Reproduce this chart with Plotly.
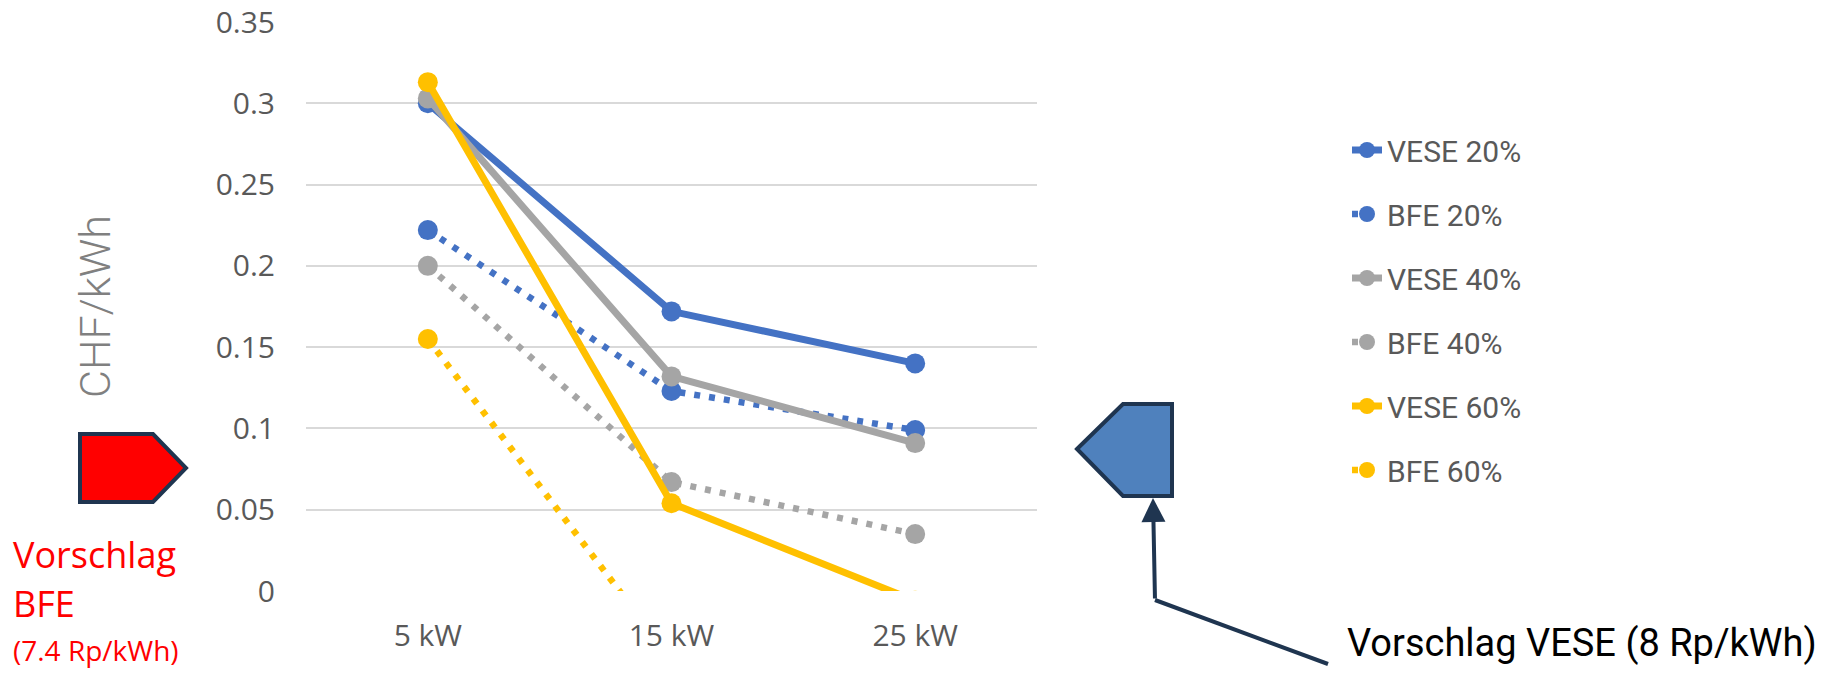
import plotly.graph_objects as go

categories = ["5 kW", "15 kW", "25 kW"]
vese_20 = [0.300, 0.172, 0.140]
bfe_20 = [0.222, 0.123, 0.099]
vese_40 = [0.303, 0.132, 0.091]
bfe_40 = [0.200, 0.067, 0.035]
vese_60 = [0.313, 0.054, -0.006]
bfe_60 = [0.155, -0.042, -0.130]
y_ticks = [0, 0.05, 0.1, 0.15, 0.2, 0.25, 0.3, 0.35]

W, H = 1832, 678
ML, MR, MT, MB = 306, 795, 22, 87
PW, PH = W - ML - MR, H - MT - MB

def px(x):
    return (x - ML) / PW

def py(y):
    return (H - MB - y) / PH

NARROW = "Roboto, Liberation Sans, sans-serif"
REG = "Open Sans, Noto Sans, sans-serif"

BLUE, GRAY, GOLD = "#4472C4", "#A5A5A5", "#FFC000"
NAVY = "#1F3550"
DOT = "6px,9px"

series = [
    ("VESE 20%", vese_20, BLUE, "solid"),
    ("BFE 20%", bfe_20, BLUE, DOT),
    ("VESE 40%", vese_40, GRAY, "solid"),
    ("BFE 40%", bfe_40, GRAY, DOT),
    ("VESE 60%", vese_60, GOLD, "solid"),
    ("BFE 60%", bfe_60, GOLD, DOT),
]

fig = go.Figure()
for i, (name, vals, col, dash) in enumerate(series):
    fig.add_trace(go.Scatter(
        x=categories, y=vals, name=name, mode="lines+markers",
        line=dict(color=col, width=7 if dash == "solid" else 6.5, dash=dash),
        marker=dict(color=col, size=20),
        legendgroup=f"g{i}",
    ))

shapes = []
red = [(80, 434), (153, 434), (186, 468), (153, 502), (80, 502)]
shapes.append(dict(type="path", xref="paper", yref="paper",
                   path="M " + " L ".join(f"{px(a)},{py(b)}" for a, b in red) + " Z",
                   fillcolor="#FF0000", line=dict(color=NAVY, width=4)))
blue = [(1077, 449), (1123, 404), (1172, 404), (1172, 496), (1123, 496)]
shapes.append(dict(type="path", xref="paper", yref="paper",
                   path="M " + " L ".join(f"{px(a)},{py(b)}" for a, b in blue) + " Z",
                   fillcolor="#4F81BD", line=dict(color=NAVY, width=4)))
shapes.append(dict(type="line", xref="paper", yref="paper",
                   x0=px(1155), y0=py(600), x1=px(1328), y1=py(664),
                   line=dict(color=NAVY, width=4)))

annotations = [
    dict(x=px(1153), y=py(498), xref="paper", yref="paper", text="",
         showarrow=True, ax=2, ay=102, arrowhead=2, arrowsize=1.2,
         arrowwidth=4, arrowcolor=NAVY),
    dict(x=px(1345), y=py(643), xref="paper", yref="paper",
         text="Vorschlag VESE (8 Rp/kWh)", showarrow=False,
         xanchor="left", yanchor="middle",
         font=dict(family=NARROW, size=38, color="#000000")),
    dict(x=px(11), y=py(554), xref="paper", yref="paper", text="Vorschlag",
         showarrow=False, xanchor="left", yanchor="middle",
         font=dict(family=REG, size=36, color="#FF0000")),
    dict(x=px(11), y=py(603), xref="paper", yref="paper", text="BFE",
         showarrow=False, xanchor="left", yanchor="middle",
         font=dict(family=REG, size=36, color="#FF0000")),
    dict(x=px(11), y=py(650), xref="paper", yref="paper", text="(7.4 Rp/kWh)",
         showarrow=False, xanchor="left", yanchor="middle",
         font=dict(family=REG, size=28, color="#FF0000")),
]

fig.update_layout(
    width=W, height=H,
    margin=dict(l=ML, r=MR, t=MT, b=MB, autoexpand=False),
    paper_bgcolor="white", plot_bgcolor="white",
    shapes=shapes, annotations=annotations,
    showlegend=True,
    legend=dict(x=px(1347), y=py(124), xanchor="left", yanchor="top",
                font=dict(family=NARROW, size=30, color="#595959"),
                tracegroupgap=22, bgcolor="rgba(0,0,0,0)"),
    xaxis=dict(type="category", categoryorder="array", categoryarray=categories,
               range=[-0.5, 2.5], showgrid=False, zeroline=False, showline=False,
               ticks="", ticklabelstandoff=24,
               tickfont=dict(family=REG, size=30, color="#595959")),
    yaxis=dict(range=[0, 0.35], tickvals=y_ticks, showgrid=True,
               gridcolor="#D9D9D9", gridwidth=2, zeroline=False, showline=False,
               ticks="", ticklabelstandoff=30,
               tickfont=dict(family=REG, size=30, color="#595959"),
               title=dict(text="CHF/kWh", standoff=91,
                          font=dict(family=NARROW, size=43, color="#808080",
                                    weight=300))),
)

fig.write_html("out.html")
